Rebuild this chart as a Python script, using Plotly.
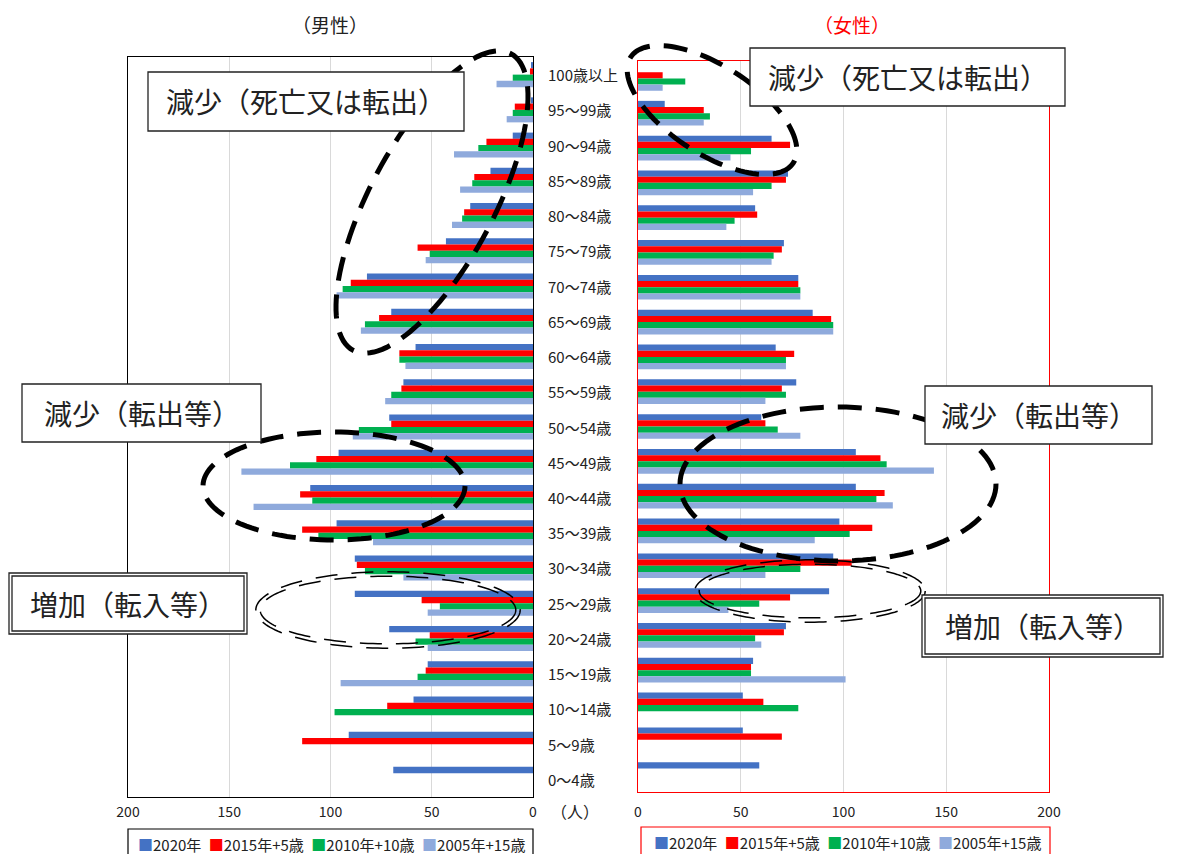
import numpy as np
import plotly.graph_objects as go

W, H = 1190, 854
FONT = "Noto Sans CJK JP"

# ---------------- data ----------------
categories = ["100歳以上", "95～99歳", "90～94歳", "85～89歳", "80～84歳", "75～79歳",
              "70～74歳", "65～69歳", "60～64歳", "55～59歳", "50～54歳", "45～49歳",
              "40～44歳", "35～39歳", "30～34歳", "25～29歳", "20～24歳", "15～19歳",
              "10～14歳", "5～9歳", "0～4歳"]
series_names = ["2020年", "2015年+5歳", "2010年+10歳", "2005年+15歳"]

male_2020 = [1, 1, 10, 21, 31, 43, 82, 70, 58, 64, 71, 96, 110, 97, 88, 88, 71, 52, 59, 91, 69]
male_2015 = [1.5, 9, 23, 29, 34, 57, 90, 76, 66, 65, 70, 107, 115, 114, 87, 55, 51, 53, 72, 114, None]
male_2010 = [10, 10, 27, 30, 35, 51, 94, 83, 66, 70, 86, 120, 109, 106, 83, 46, 58, 57, 98, None, None]
male_2005 = [18, 13, 39, 36, 40, 53, 97, 85, 63, 73, 89, 144, 138, 79, 64, 52, 52, 95, None, None, None]

female_2020 = [None, 13, 65, 73, 57, 71, 78, 85, 67, 77, 60, 106, 106, 98, 95, 93, 72, 56, 51, 51, 59]
female_2015 = [12, 32, 74, 72, 58, 70, 78, 94, 76, 70, 62, 118, 120, 114, 104, 74, 71, 55, 61, 70, None]
female_2010 = [23, 35, 55, 65, 47, 66, 79, 95, 72, 72, 68, 121, 116, 103, 79, 59, 57, 55, 78, None, None]
female_2005 = [12, 32, 45, 56, 43, 65, 79, 95, 72, 62, 79, 144, 124, 86, 62, 44, 60, 101, None, None, None]

x_ticks = [0, 50, 100, 150, 200]
colors = ["#4472C4", "#FF0000", "#00B050", "#8FAADC"]

# ---------------- helpers ----------------
def px(x):
    return x / W

def py(y):
    return 1 - y / H

fig = go.Figure()

male = [male_2020, male_2015, male_2010, male_2005]
female = [female_2020, female_2015, female_2010, female_2005]
for name, vals, col in zip(series_names, male, colors):
    fig.add_trace(go.Bar(x=vals, y=categories, orientation="h", name=name,
                         marker=dict(color=col, line=dict(width=0)),
                         xaxis="x", yaxis="y", showlegend=False))
for name, vals, col in zip(series_names, female, colors):
    fig.add_trace(go.Bar(x=vals, y=categories, orientation="h", name=name,
                         marker=dict(color=col, line=dict(width=0)),
                         xaxis="x2", yaxis="y2", showlegend=False))

n = len(categories)
yrange = [n - 0.5, -0.5]

common_x = dict(tickvals=x_ticks, ticktext=[str(v) for v in x_ticks], showgrid=True,
                gridcolor="#D9D9D9", gridwidth=1, zeroline=False, ticks="",
                tickfont=dict(family=FONT, size=14, color="#222"), showline=True, mirror=True,
                fixedrange=True, automargin=False)
common_y = dict(type="category", categoryorder="array", categoryarray=categories,
                range=yrange, showticklabels=False, showgrid=False, zeroline=False,
                showline=True, mirror=True, ticks="", fixedrange=True, automargin=False)

fig.update_layout(
    template="none",
    width=W, height=H, margin=dict(l=0, r=0, t=0, b=0, pad=0, autoexpand=False),
    paper_bgcolor="white", plot_bgcolor="white", showlegend=False,
    barmode="group", bargap=0.29, bargroupgap=0.0,
    font=dict(family=FONT, color="#222"),
    xaxis=dict(domain=[px(128), px(533)], range=[200, 0], anchor="y",
               linecolor="black", linewidth=1, ticklabelstandoff=2, **common_x),
    yaxis=dict(domain=[py(797), py(57)], anchor="x", linecolor="black", linewidth=1, **common_y),
    xaxis2=dict(domain=[px(638), px(1049)], range=[0, 200], anchor="y2",
                linecolor="#FF0000", linewidth=1, ticklabelstandoff=7, **common_x),
    yaxis2=dict(domain=[py(792), py(61)], anchor="x2", linecolor="#FF0000", linewidth=1, **common_y),
)

annotations = []


def text_at(x, y, text, size, color="#222", xanchor="center", yref="paper"):
    annotations.append(dict(x=px(x), y=(py(y) if yref == "paper" else y), xref="paper", yref=yref,
                            text=text, showarrow=False, xanchor=xanchor, yanchor="middle",
                            font=dict(family=FONT, size=size, color=color)))


# category labels
for c in categories:
    text_at(546, c, c, 15, xanchor="left", yref="y")
# titles
text_at(330, 24, "（男性）", 19)
text_at(852, 24, "（女性）", 19, color="#FF0000")
text_at(575, 811, "（人）", 16)

# legends (as text)
leg_parts = []
for name, col in zip(series_names, colors):
    leg_parts.append(f'<span style="color:{col}">■</span>{name}')
leg_text = "\u2002".join(leg_parts)
text_at(331, 844, leg_text, 15)
text_at(847, 842, leg_text, 15)

shapes = []
# legend boxes
shapes.append(dict(type="rect", xref="paper", yref="paper", x0=px(128), x1=px(533),
                   y0=py(860), y1=py(829), line=dict(color="black", width=1.2),
                   fillcolor="rgba(0,0,0,0)"))
shapes.append(dict(type="rect", xref="paper", yref="paper", x0=px(641), x1=px(1050),
                   y0=py(860), y1=py(827), line=dict(color="#FF0000", width=1.2),
                   fillcolor="rgba(0,0,0,0)"))


def ellipse_path(cx, cy, a, b, ang_deg, npts=120):
    phi = np.deg2rad(ang_deg)
    t = np.linspace(0, 2 * np.pi, npts, endpoint=False)
    xs = cx + a * np.cos(t) * np.cos(phi) - b * np.sin(t) * np.sin(phi)
    ys = cy + a * np.cos(t) * np.sin(phi) + b * np.sin(t) * np.cos(phi)
    pts = [f"{px(x):.5f},{py(y):.5f}" for x, y in zip(xs, ys)]
    return "M " + " L ".join(pts) + " Z"


thick = dict(color="black", width=5, dash="24px,14px")
# dashed ellipses (decorations)
for (cx, cy, a, b, ang) in [(432, 202, 168, 62, -62), (334, 486, 131, 54, 0),
                            (838, 484, 158, 77, 0), (712, 110, 97, 44, 33)]:
    shapes.append(dict(type="path", xref="paper", yref="paper",
                       path=ellipse_path(cx, cy, a, b, ang), line=thick))
# double dashed ellipses
for (cx, cy, a, b) in [(388, 610, 130, 36), (810, 591, 113, 29)]:
    for d in (-2.2, 2.2):
        shapes.append(dict(type="path", xref="paper", yref="paper",
                           path=ellipse_path(cx, cy, a + d, b + d, 0, 160),
                           line=dict(color="black", width=1.5, dash="22px,14px")))


def box(x0, y0, x1, y1, text, double=False):
    shapes.append(dict(type="rect", xref="paper", yref="paper", x0=px(x0), x1=px(x1),
                       y0=py(y1), y1=py(y0), line=dict(color="#222", width=1.3),
                       fillcolor="white"))
    if double:
        shapes.append(dict(type="rect", xref="paper", yref="paper", x0=px(x0 + 3), x1=px(x1 - 3),
                           y0=py(y1 - 3), y1=py(y0 + 3), line=dict(color="#222", width=1.3),
                           fillcolor="rgba(0,0,0,0)"))
    text_at((x0 + x1) / 2, (y0 + y1) / 2, text, 28)


box(148, 72, 464, 131, "減少（死亡又は転出）")
box(750, 48, 1065, 106, "減少（死亡又は転出）")
box(22, 384, 261, 442, "減少（転出等）")
box(925, 386, 1152, 444, "減少（転出等）")
box(9, 573, 247, 634, "増加（転入等）", double=True)
box(922, 595, 1163, 657, "増加（転入等）", double=True)

fig.update_layout(shapes=shapes, annotations=annotations)
fig.write_html("out.html")
